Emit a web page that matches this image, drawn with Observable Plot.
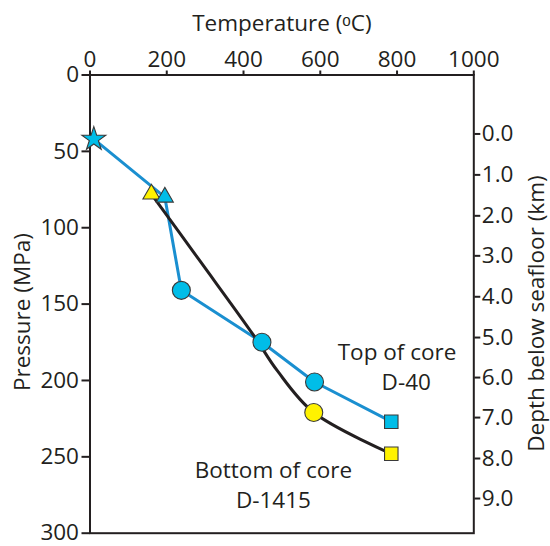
<!DOCTYPE html>
<html><head><meta charset="utf-8">
<script src="https://cdn.jsdelivr.net/npm/d3@7"></script>
<script src="https://cdn.jsdelivr.net/npm/@observablehq/plot@0.6"></script>
<style>body{margin:0;background:#fff;}</style>
</head><body><div id="chart"></div>
<script>
// Top of core D-40 (blue path)
const topTemp = [10, 195, 238, 448, 585, 785];
const topPressure = [42, 80, 141, 175, 201, 227];
const topSymbols = ["star", "triangle", "circle", "circle", "circle", "square"];
// Bottom of core D-1415 (yellow samples)
const bottomTemp = [160, 583, 785];
const bottomPressure = [78, 221, 248];
const bottomSymbols = ["triangle", "circle", "square"];
// Black trend curve traced through the bottom-of-core samples
const curveTemp = [160, 286, 427, 488, 583, 785];
const curvePressure = [78, 121.6, 170.7, 193.6, 221, 248];
// Axes
const tempTicks = [0, 200, 400, 600, 800, 1000];
const pressureTicks = [0, 50, 100, 150, 200, 250, 300];
const depthTicks = [0, 1, 2, 3, 4, 5, 6, 7, 8, 9];
const depthTickPressure = [38.6, 65.4, 92.2, 118.4, 145.2, 171.9, 198.1, 224.3, 251.1, 277.3];
// Annotations
const noteText = ["Top of core", "D-40", "Bottom of core", "D-1415"];
const noteTemp = [800, 824, 478, 478];
const notePressure = [181.6, 201.2, 259, 279];

const ink = "#231f20";
const blueLine = "#1a8fd0";
const cyan = "#00bde8";
const yellow = "#fff200";

const topRows = topTemp.map((t, i) => ({t, p: topPressure[i], s: topSymbols[i]}));
const bottomRows = bottomTemp.map((t, i) => ({t, p: bottomPressure[i], s: bottomSymbols[i]}));
const curveRows = curveTemp.map((t, i) => ({t, p: curvePressure[i]}));
const notes = noteText.map((text, i) => ({text, t: noteTemp[i], p: notePressure[i]}));

const sizes = {star: 7.5, triangle: 6.3, circle: 9, square: 7.6};
const dots = (rows, fill, sym) => Plot.dot(rows, {
  filter: d => d.s === sym, x: "t", y: "p", symbol: sym, r: sizes[sym],
  fill, stroke: "#3a3a3a", strokeWidth: 1.1
});
const title = (s, o) => Plot.text([s], {text: d => d, textAnchor: "middle", lineAnchor: "middle", fill: ink, ...o});

const chart = Plot.plot({
  width: 550,
  height: 546,
  marginLeft: 89.5,
  marginRight: 76.7,
  marginTop: 74.5,
  marginBottom: 13.3,
  style: {fontFamily: "'Open Sans', sans-serif", fontSize: "22.5px", color: ink, background: "#fff"},
  x: {domain: [0, 1000]},
  y: {domain: [0, 300], reverse: true},
  marks: [
    Plot.axisX(tempTicks, {anchor: "top", tickSize: 5, tickPadding: 3, label: null, stroke: ink, strokeWidth: 2, fill: ink, tickFormat: d => String(d)}),
    Plot.axisY(pressureTicks, {anchor: "left", tickSize: 8, tickPadding: 3, label: null, stroke: ink, strokeWidth: 2, fill: ink, tickFormat: d => String(d)}),
    Plot.axisY(depthTickPressure, {anchor: "right", tickSize: 6, tickPadding: 2, label: null, stroke: ink, strokeWidth: 2, fill: ink,
      tickFormat: d => depthTicks[depthTickPressure.indexOf(d)].toFixed(1)}),
    Plot.frame({stroke: ink, strokeWidth: 2}),
    title("Temperature (ᵒC)", {frameAnchor: "top", dy: -51.5}),
    title("Pressure (MPa)", {frameAnchor: "left", rotate: -90, dx: -67.5, dy: 8}),
    title("Depth below seafloor (km)", {frameAnchor: "right", rotate: -90, dx: 63, dy: 9.5}),
    Plot.line(topRows, {x: "t", y: "p", stroke: blueLine, strokeWidth: 3}),
    Plot.line(curveRows, {x: "t", y: "p", stroke: ink, strokeWidth: 3, curve: "catmull-rom"}),
    dots(bottomRows, yellow, "triangle"),
    dots(topRows, cyan, "triangle"),
    dots(topRows, cyan, "star"),
    dots(topRows, cyan, "circle"),
    dots(topRows, cyan, "square"),
    dots(bottomRows, yellow, "circle"),
    dots(bottomRows, yellow, "square"),
    Plot.text(notes, {x: "t", y: "p", text: "text", fill: ink})
  ]
});
document.getElementById("chart").appendChild(chart);
</script>
</body></html>
